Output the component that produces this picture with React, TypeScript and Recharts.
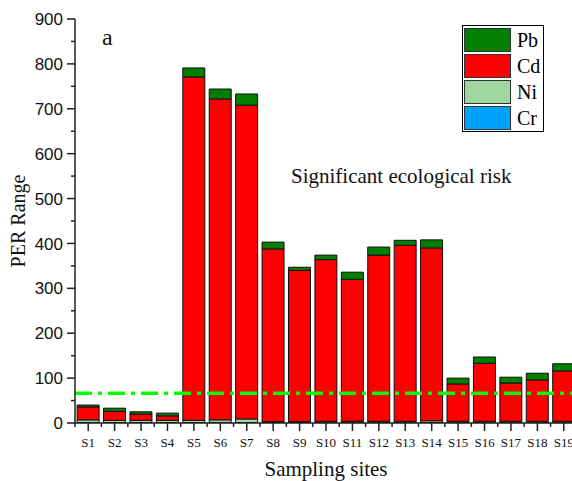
import React from 'react';
import { BarChart, Bar, XAxis, YAxis, ReferenceLine, Legend, Customized } from 'recharts';

// ---- data ----
const sites = ['S1','S2','S3','S4','S5','S6','S7','S8','S9','S10','S11','S12','S13','S14','S15','S16','S17','S18','S19'];
const cr = [1,1,1,1,1,1,1,1,1,1,1,1,1,1,1,1,1,1,1];
const ni = [6,5,5,5,5,6,8,2,2,3,3,3,3,4,3,3,3,3,3];
const cd = [29,20,14,10,765,715,699,385,337,360,316,370,392,385,83,129,85,92,112];
const pb = [4,7,5,6,20,22,25,15,7,10,16,18,11,18,13,14,13,15,16];
const yTicks = [0,50,100,150,200,250,300,350,400,450,500,550,600,650,700,750,800,850,900];
const riskThreshold = 66;
const legendOrder = ['Pb','Cd','Ni','Cr'];

const data = sites.map((s, i) => ({ site: s, Cr: cr[i], Ni: ni[i], Cd: cd[i], Pb: pb[i] }));

// ---- layout ----
const W = 580, H = 481;
const ML = 75, MT = 19, MR = 3, XH = 58;
const BAND = (W - MR - ML) / sites.length;
const SERIF = "'Liberation Serif', 'Times New Roman', serif";
const SANS = "'Liberation Sans', Arial, sans-serif";
const AX = '#222';

const YTick = (props: any) => {
  const { x, y, payload } = props;
  const axisX = x + 12;
  const major = payload.value % 100 === 0;
  return (
    <g>
      <line x1={axisX - (major ? 8 : 4)} x2={axisX} y1={y} y2={y} stroke={AX} strokeWidth={1.5} />
      {major && (
        <text x={x} y={y} dy="0.36em" textAnchor="end" fontFamily={SANS} fontSize={17} fill="#111">
          {payload.value}
        </text>
      )}
    </g>
  );
};

const XTick = (props: any) => {
  const { x, y, payload, index } = props;
  const axisY = y - 12;
  return (
    <g>
      <line x1={x} x2={x} y1={axisY} y2={axisY + 8} stroke={AX} strokeWidth={1.5} />
      <line x1={x - BAND / 2} x2={x - BAND / 2} y1={axisY} y2={axisY + 4} stroke={AX} strokeWidth={1.5} />
      {index === sites.length - 1 && (
        <line x1={x + BAND / 2} x2={x + BAND / 2} y1={axisY} y2={axisY + 4} stroke={AX} strokeWidth={1.5} />
      )}
      <text x={x} y={y + 3} dy="0.71em" textAnchor="middle" fontFamily={SERIF} fontSize={13} fill="#111">
        {payload.value}
      </text>
    </g>
  );
};

const LegendBox = (props: any) => {
  const payload = props.payload || [];
  const items = legendOrder
    .map((k) => payload.find((p: any) => p.value === k || p.dataKey === k))
    .filter(Boolean);
  return (
    <div style={{ border: '1px solid #000', background: '#fff', padding: '2px 2px 1px 1px', width: 82, boxSizing: 'border-box' }}>
      {items.map((it: any, i: number) => (
        <div key={it.value} style={{ display: 'flex', alignItems: 'center', height: 24, marginBottom: i < items.length - 1 ? 2 : 0 }}>
          <div style={{ width: 47, height: 24, background: it.color, border: '1px solid #333', boxSizing: 'border-box' }} />
          <span style={{ marginLeft: 6, fontFamily: SERIF, fontSize: 20, lineHeight: '24px', color: '#000' }}>{it.value}</span>
        </div>
      ))}
    </div>
  );
};

const Annotations = () => (
  <g>
    <text x={102} y={45} fontFamily={SERIF} fontSize={24} fill="#111">a</text>
    <text x={291} y={183} fontFamily={SERIF} fontSize={21} fill="#111">Significant ecological risk</text>
  </g>
);

const YLabel = (props: any) => {
  const vb = props.viewBox || { x: 0, y: MT, width: ML, height: 404 };
  const cx = vb.x + 25;
  const cy = vb.y + vb.height / 2;
  return (
    <text x={cx} y={cy} transform={`rotate(-90 ${cx} ${cy})`} textAnchor="middle" fontFamily={SERIF} fontSize={20} fill="#111">
      PER Range
    </text>
  );
};

const XLabel = (props: any) => {
  const vb = props.viewBox || { x: ML, y: 423, width: 502, height: XH };
  return (
    <text x={vb.x + vb.width / 2} y={vb.y + 53} textAnchor="middle" fontFamily={SERIF} fontSize={21} fill="#111">
      Sampling sites
    </text>
  );
};

export default function App() {
  return (
    <div style={{ position: 'fixed', left: 0, top: 0, width: 572, height: 481, overflow: 'hidden', background: '#fff' }}>
      <BarChart width={W} height={H} data={data} margin={{ top: MT, right: MR, left: 0, bottom: 0 }} barCategoryGap="8%">
        <XAxis
          dataKey="site"
          height={XH}
          interval={0}
          tickSize={8}
          tickMargin={4}
          tickLine={false}
          tick={<XTick />}
          axisLine={{ stroke: AX, strokeWidth: 1.5 }}
          label={<XLabel />}
        />
        <XAxis
          xAxisId="top"
          orientation="top"
          dataKey="site"
          height={0}
          tick={false}
          tickLine={false}
          axisLine={{ stroke: '#333', strokeWidth: 1.5 }}
        />
        <YAxis
          width={ML}
          domain={[0, 900]}
          ticks={yTicks}
          interval={0}
          tickSize={8}
          tickMargin={4}
          tickLine={false}
          tick={<YTick />}
          axisLine={{ stroke: AX, strokeWidth: 1.5 }}
          allowDataOverflow
          label={<YLabel />}
        />
        <Bar dataKey="Cr" stackId="a" fill="#00A2FF" stroke="#111" strokeWidth={1} isAnimationActive={false} />
        <Bar dataKey="Ni" stackId="a" fill="#A0D6A0" stroke="#111" strokeWidth={1} isAnimationActive={false} />
        <Bar dataKey="Cd" stackId="a" fill="#FF0000" stroke="#111" strokeWidth={1} isAnimationActive={false} />
        <Bar dataKey="Pb" stackId="a" fill="#007F00" stroke="#111" strokeWidth={1} isAnimationActive={false} />
        <ReferenceLine y={riskThreshold} stroke="#00FF00" strokeWidth={3.5} strokeDasharray="17 6 4 6" />
        <Legend
          layout="horizontal"
          verticalAlign="middle"
          align="center"
          content={<LegendBox />}
          wrapperStyle={{ position: 'absolute', left: 462, top: 25, width: 82, height: 'auto' }}
        />
        <Customized component={Annotations} />
      </BarChart>
    </div>
  );
}
